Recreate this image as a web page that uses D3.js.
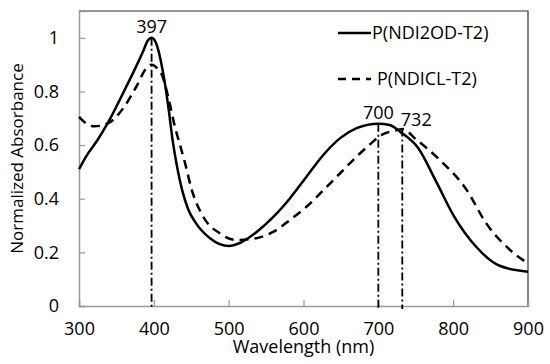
<!DOCTYPE html>
<html>
<head>
<meta charset="utf-8">
<script src="https://cdn.jsdelivr.net/npm/d3@7"></script>
<style>
  body { margin: 0; background: #fff; }
  text { font-family: "Open Sans", sans-serif; fill: #000; }
</style>
</head>
<body>
<div id="chart"></div>
<script>
// data
let seriesNames = ["P(NDI2OD-T2)", "P(NDICL-T2)"];
let ndi2odWl = [300, 310, 325, 340, 360, 375, 385, 392, 397, 403, 413, 420, 425, 431, 438, 446, 456, 475, 500, 515, 537, 560, 582, 604, 627, 649, 671, 700, 715, 729, 753, 778, 800, 831, 862, 900];
let ndi2odAbs = [0.51, 0.56, 0.62, 0.69, 0.80, 0.885, 0.945, 0.99, 1.0, 0.98, 0.86, 0.73, 0.62, 0.52, 0.43, 0.36, 0.31, 0.253, 0.224, 0.235, 0.275, 0.333, 0.402, 0.482, 0.565, 0.626, 0.663, 0.68, 0.675, 0.65, 0.59, 0.46, 0.34, 0.22, 0.15, 0.128];
let ndiclWl = [300, 310, 321, 338, 361, 377, 390, 397, 405, 411, 420, 428, 435, 442, 450, 466, 488, 511, 537, 560, 582, 604, 627, 649, 671, 693, 702, 727, 732, 751, 782, 818, 844, 876, 900];
let ndiclAbs = [0.705, 0.68, 0.67, 0.68, 0.745, 0.82, 0.887, 0.9, 0.885, 0.86, 0.77, 0.67, 0.6, 0.53, 0.44, 0.333, 0.271, 0.246, 0.253, 0.277, 0.321, 0.37, 0.433, 0.495, 0.557, 0.613, 0.634, 0.657, 0.66, 0.62, 0.545, 0.433, 0.309, 0.209, 0.159];
let peakWl = [397, 700, 732];
let peakAbs = [1.0, 0.68, 0.662];
let xTicks = [300, 400, 500, 600, 700, 800, 900];
let yTicks = [0, 0.2, 0.4, 0.6, 0.8, 1];

// dimensions
let width = 550;
let height = 364;
let margin = { top: 11, right: 22, bottom: 58, left: 79 };

let svg = d3.select("#chart")
    .append("svg")
    .attr("width", width)
    .attr("height", height);

let x = d3.scaleLinear().domain([300, 900]).range([margin.left, width - margin.right]);
let y = d3.scaleLinear().domain([0, 1.1]).range([height - margin.bottom, margin.top]);

// frame: top and right dark, axes grey
svg.append("path")
    .attr("d", "M" + x(300) + "," + y(1.1) + "H" + x(900) + "V" + y(0))
    .attr("fill", "none")
    .attr("stroke", "#333")
    .attr("stroke-width", 1.2);

let xAxis = svg.append("g")
    .attr("transform", "translate(0," + y(0) + ")")
    .call(d3.axisBottom(x).tickValues(xTicks).tickSize(-6).tickPadding(16).tickFormat(d3.format("d")));
let yAxis = svg.append("g")
    .attr("transform", "translate(" + x(300) + ",0)")
    .call(d3.axisLeft(y).tickValues(yTicks).tickSize(-6).tickPadding(20).tickFormat(d => d === 0 || d === 1 ? d : d3.format(".1f")(d)));

[xAxis, yAxis].forEach(function (a) {
    a.select(".domain").attr("stroke", "#999").attr("stroke-width", 1.5);
    a.selectAll(".tick line").attr("stroke", "#999").attr("stroke-width", 1.2);
    a.selectAll(".tick text").attr("font-size", 18).attr("font-family", "Open Sans").attr("fill", "#000");
});
xAxis.selectAll(".tick text").attr("dy", "0.7em");

// axis titles
svg.append("text")
    .attr("x", (x(300) + x(900)) / 2)
    .attr("y", 353)
    .attr("text-anchor", "middle")
    .attr("font-size", 18)
    .text("Wavelength (nm)");
svg.append("text")
    .attr("transform", "translate(23," + (y(0) + y(1.1)) / 2 + ") rotate(-90)")
    .attr("text-anchor", "middle")
    .attr("font-size", 17)
    .text("Normalized Absorbance");

// drop lines at peaks
svg.selectAll(".drop")
    .data(peakWl)
    .enter()
    .append("line")
    .attr("class", "drop")
    .attr("x1", d => x(d))
    .attr("x2", d => x(d))
    .attr("y1", (d, i) => y(peakAbs[i]))
    .attr("y2", y(0) + 3)
    .attr("stroke", "#000")
    .attr("stroke-width", 1.8)
    .attr("stroke-dasharray", "8,3,2,3");

svg.selectAll(".peak-label")
    .data(peakWl)
    .enter()
    .append("text")
    .attr("class", "peak-label")
    .attr("x", (d, i) => i === 2 ? x(d) + 14 : x(d))
    .attr("y", (d, i) => y(peakAbs[i]) - 5 + (i === 2 ? 3 : 0))
    .attr("text-anchor", "middle")
    .attr("font-size", 18)
    .text(d => d);

// spectra
let line = d3.line()
    .x(d => x(d[0]))
    .y(d => y(d[1]))
    .curve(d3.curveMonotoneX);

svg.append("path")
    .datum(d3.zip(ndiclWl, ndiclAbs))
    .attr("d", line)
    .attr("fill", "none")
    .attr("stroke", "#000")
    .attr("stroke-width", 2.5)
    .attr("stroke-dasharray", "9,6");

svg.append("path")
    .datum(d3.zip(ndi2odWl, ndi2odAbs))
    .attr("d", line)
    .attr("fill", "none")
    .attr("stroke", "#000")
    .attr("stroke-width", 2.5);

// legend
let legendY = [33, 79];
let legend = svg.selectAll(".legend")
    .data(seriesNames)
    .enter()
    .append("g")
    .attr("class", "legend")
    .attr("transform", (d, i) => "translate(338," + legendY[i] + ")");
legend.append("line")
    .attr("x1", 0)
    .attr("x2", 33)
    .attr("stroke", "#000")
    .attr("stroke-width", 2.5)
    .attr("stroke-dasharray", (d, i) => i === 0 ? null : "8,6");
legend.append("text")
    .attr("x", (d, i) => i === 0 ? 34 : 39)
    .attr("dy", "0.35em")
    .attr("font-size", 18)
    .text(d => d);
</script>
</body>
</html>
